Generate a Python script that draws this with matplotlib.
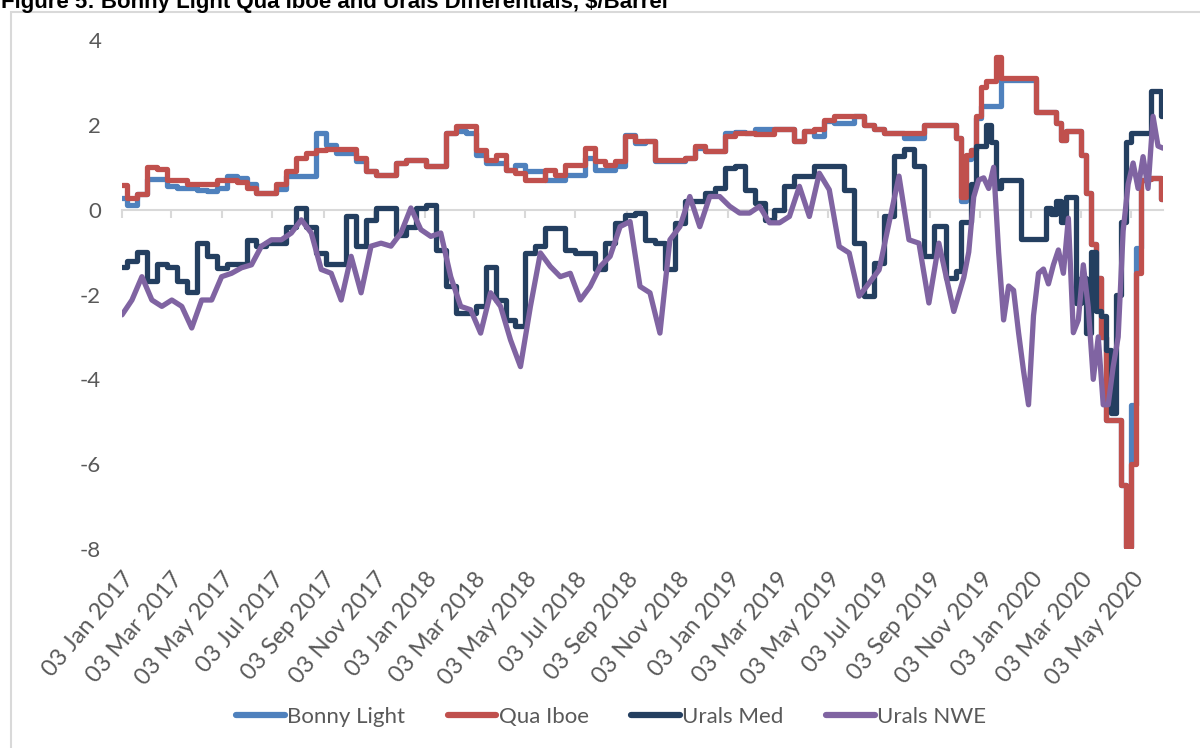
import matplotlib
matplotlib.use("Agg")
import matplotlib.pyplot as plt
import matplotlib.dates as mdates
from matplotlib.patches import Rectangle
from matplotlib.lines import Line2D
import pandas as pd
import numpy as np

title = "Figure 5: Bonny Light Qua Iboe and Urals Differentials, $/Barrel"
series_names = ["Bonny Light", "Qua Iboe", "Urals Med", "Urals NWE"]
series_colors = ["#4F81BD", "#C0504D", "#243F60", "#8064A2"]

tick_labels = ["03 Jan 2017", "03 Mar 2017", "03 May 2017", "03 Jul 2017", "03 Sep 2017",
               "03 Nov 2017", "03 Jan 2018", "03 Mar 2018", "03 May 2018", "03 Jul 2018",
               "03 Sep 2018", "03 Nov 2018", "03 Jan 2019", "03 Mar 2019", "03 May 2019",
               "03 Jul 2019", "03 Sep 2019", "03 Nov 2019", "03 Jan 2020", "03 Mar 2020",
               "03 May 2020"]
y_ticks = [-8, -6, -4, -2, 0, 2, 4]

bonny_light = [0.28, 0.12, 0.36, 0.72, 0.72, 0.55, 0.5, 0.5, 0.47, 0.43, 0.5, 0.8, 0.75, 0.6, 0.4, 0.4, 0.48, 0.8, 0.8, 0.8, 1.8,
               1.53, 1.34, 1.34, 1.14, 0.9, 0.82, 0.82, 1.1, 1.18, 1.18, 1.02, 1.02, 1.81, 1.85, 1.81, 1.3, 1.1, 1.1, 0.94, 1.06, 0.9,
               0.9, 0.71, 0.71, 0.82, 0.82, 1.22, 0.94, 0.94, 1.02, 1.77, 1.57, 1.61, 1.14, 1.14, 1.14, 1.22, 1.45, 1.38, 1.38, 1.81, 1.83,
               1.81, 1.89, 1.89, 1.9, 1.9, 1.61, 1.85, 1.73, 2.1, 2.04, 2.04, 2.21, 2.0, 1.9, 1.81, 1.81, 1.7, 1.7, 2.0, 2.0,
               2.0, 1.7, 0.2, 1.2, 1.4, 2.15, 2.45, 2.45, 2.45, 2.45, 3.05, 3.05, 3.05, 3.05, 3.05, 3.05, 3.05, 2.3, 2.3, 2.3, 2.3,
               2.05, 1.65, 1.85, 1.85, 1.85, 1.3, 0.4, -0.8, -1.6, -3.0, -4.95, -4.95, -4.95, -6.5, -7.95, -4.6, -0.9,
               0.7, 0.72, 0.75, 0.75, 0.25]

qua_iboe = [0.59, 0.28, 0.36, 1.0, 0.95, 0.70, 0.70, 0.6, 0.6, 0.6, 0.7, 0.7, 0.65, 0.52, 0.40, 0.40, 0.6, 0.92, 1.22, 1.34, 1.41,
            1.43, 1.43, 1.43, 1.22, 0.9, 0.82, 0.82, 1.1, 1.18, 1.18, 1.02, 1.02, 1.81, 1.98, 1.97, 1.41, 1.18, 1.3, 0.94, 0.87, 0.71,
            0.71, 0.94, 0.82, 1.06, 1.06, 1.45, 1.14, 1.06, 1.14, 1.74, 1.61, 1.61, 1.18, 1.18, 1.18, 1.22, 1.49, 1.38, 1.38, 1.74, 1.81,
            1.81, 1.78, 1.78, 1.9, 1.9, 1.61, 1.85, 1.89, 2.12, 2.21, 2.21, 2.21, 2.0, 1.9, 1.81, 1.81, 1.81, 1.81, 2.0, 2.0,
            2.0, 1.7, 0.3, 1.3, 1.4, 2.2, 2.9, 3.03, 3.03, 3.6, 3.1, 3.1, 3.1, 3.1, 3.1, 3.1, 3.1, 2.3, 2.3, 2.3, 2.3,
            2.05, 1.65, 1.85, 1.85, 1.85, 1.3, 0.4, -0.8, -1.6, -3.0, -4.95, -4.95, -4.95, -6.5, -7.95, -6.0, -1.5,
            0.7, 0.72, 0.75, 0.75, 0.25]

urals_med = [-1.34, -1.2, -1.0, -1.67, -1.27, -1.34, -1.67, -1.93, -0.79, -1.1, -1.37, -1.27, -1.27, -0.71, -0.86, -0.79, -0.79, -0.4, 0.04, -0.4, -1.02,
             -1.27, -1.27, -0.16, -0.86, -0.24, 0.04, 0.04, -0.59, -0.4, 0.04, 0.12, -0.94, -1.81, -2.44, -2.44, -2.28, -1.34, -2.13, -2.59, -2.75, -1.02,
             -0.86, -0.43, -0.43, -0.94, -1.02, -1.02, -1.41, -0.79, -0.31, -0.12, -0.08, -0.71, -0.79, -1.41, -0.31, 0.2, 0.2, 0.39, 0.51, 0.98, 1.02,
             0.47, 0.16, -0.24, 0.0, 0.55, 0.79, 0.79, 1.02, 1.02, 1.02, 0.47, -0.79, -2.04, -1.26, -0.16, 1.26, 1.42, 1.02, -1.1, -0.39,
             -1.6, -1.45, -0.3, -0.3, 0.6, 1.5, 1.5, 2.0, 1.6, 0.5, 0.7, 0.7, 0.7, 0.7, -0.7, -0.7, -0.7, -0.7, -0.7,
             0.05, -0.1, 0.2, -0.3, 0.3, 0.3, -2.2, -1.6, -2.9, -1.0, -2.4, -2.5, -3.3, -4.8, -2.0, -0.3,
             1.6, 1.8, 1.8, 1.8, 1.8, 2.8, 2.8, 2.2]

urals_nwe = [-2.48, -2.13, -1.58, -2.13, -2.28, -2.13, -2.28, -2.79, -2.13, -2.13, -1.58, -1.5, -1.37, -1.3, -0.86, -0.71, -0.71, -0.55, -0.24, -0.55, -1.41,
             -1.5, -2.13, -1.1, -1.96, -0.86, -0.79, -0.86, -0.55, 0.04, -0.47, -0.63, -0.55, -1.58, -2.28, -2.36, -2.91, -1.96, -2.28, -3.07, -3.7, -2.28,
             -1.02, -1.34, -1.58, -1.5, -2.13, -1.81, -1.34, -1.1, -0.4, -0.28, -1.81, -1.96, -2.91, -0.71, -0.4, 0.31, -0.4, 0.31, 0.31, 0.08, -0.08,
             -0.08, 0.08, -0.31, -0.31, -0.16, 0.55, -0.16, 0.86, 0.47, -0.87, -1.02, -2.04, -1.73, -1.42, -0.31, 0.79, -0.71, -0.79, -2.2, -0.79,
             -2.4, -2.0, -1.6, -1.0, 0.3, 0.7, 0.75, 0.5, 1.0, -1.0, -2.6, -1.8, -1.9, -2.9, -3.8, -4.6, -2.5, -1.5, -1.4, -1.75,
             -1.3, -0.95, -1.5, -0.2, -2.9, -2.6, -1.3, -2.3, -4.0, -3.0, -4.6, -4.6, -3.7, -3.0, -0.5, 0.6, 1.1, 0.5, 1.25, 0.5,
             2.2, 1.5, 1.45]

# sample dates: 12-day spacing through Sep 2019, 6-day spacing afterwards
n_coarse = 83
coarse_dates = pd.date_range("2017-01-03", periods=n_coarse, freq="12D")
fine_dates = pd.date_range(coarse_dates[-1] + pd.Timedelta(days=18),
                           periods=len(qua_iboe) - n_coarse, freq="6D")
dates = coarse_dates.append(fine_dates)
x = mdates.date2num(dates.to_pydatetime())

font = ["Lato", "DejaVu Sans"]
plt.rcParams["font.family"] = font
txt_color = "#595959"

W, H = 1200, 748
fig = plt.figure(figsize=(W / 100, H / 100), dpi=100)
fig.patch.set_facecolor("white")

# outer chart frame
fig.patches.append(Rectangle((11 / W, -0.1), 1.2, (H - 12) / H + 0.1, transform=fig.transFigure,
                             fill=False, edgecolor="#D9D9D9", lw=1.5, zorder=0))
fig.text(1 / W, 1 - 8 / H, title, fontsize=16, fontweight="bold", family="Liberation Sans",
         color="black", va="baseline", ha="left")

ax_l, ax_r, ax_t, ax_b = 122, 1163, 40, 549
ax = fig.add_axes([ax_l / W, 1 - ax_b / H, (ax_r - ax_l) / W, (ax_b - ax_t) / H])
ax.set_facecolor("none")

data = [bonny_light, qua_iboe, urals_med, urals_nwe]
styles = ["steps-mid", "steps-mid", "steps-mid", "default"]
for vals, name, col, ds in zip(data, series_names, series_colors, styles):
    ax.plot(x, vals, color=col, lw=3.8, drawstyle=ds, solid_joinstyle="round",
            solid_capstyle="round", label=name, zorder=3)

ax.set_xlim(x[0], x[-1])
ax.set_ylim(-8, 4)
ax.set_yticks(y_ticks)
ax.set_yticklabels([str(v) for v in y_ticks])
ax.tick_params(axis="y", length=0, pad=15, labelsize=16, labelcolor=txt_color)

for s in ["top", "right", "left"]:
    ax.spines[s].set_visible(False)
ax.spines["bottom"].set_position(("data", 0))
ax.spines["bottom"].set_color("#D9D9D9")
ax.spines["bottom"].set_linewidth(1.5)
ax.spines["bottom"].set_zorder(1)

tick_x = mdates.date2num(pd.to_datetime(tick_labels, format="%d %b %Y").to_pydatetime())
ax.set_xticks(tick_x)
ax.tick_params(axis="x", direction="out", length=6, width=1.5, color="#D9D9D9", labelbottom=False)

sec = ax.secondary_xaxis(0)
sec.set_xticks(tick_x)
sec.set_xticklabels(tick_labels, rotation=50, ha="right", rotation_mode="anchor")
sec.tick_params(axis="x", length=0, pad=14, labelsize=17, labelcolor=txt_color)
sec.spines["bottom"].set_visible(False)

handles = [Line2D([0], [0], color=c, lw=4.5, solid_capstyle="round") for c in series_colors]
fig.legend(handles, series_names, loc="center", bbox_to_anchor=(611 / W, 1 - 717 / H), ncol=4,
           frameon=False, fontsize=16, labelcolor=txt_color, handlelength=2.2, handletextpad=0.1,
           columnspacing=1.9)

fig.savefig("out.png", dpi=100, facecolor="white")
